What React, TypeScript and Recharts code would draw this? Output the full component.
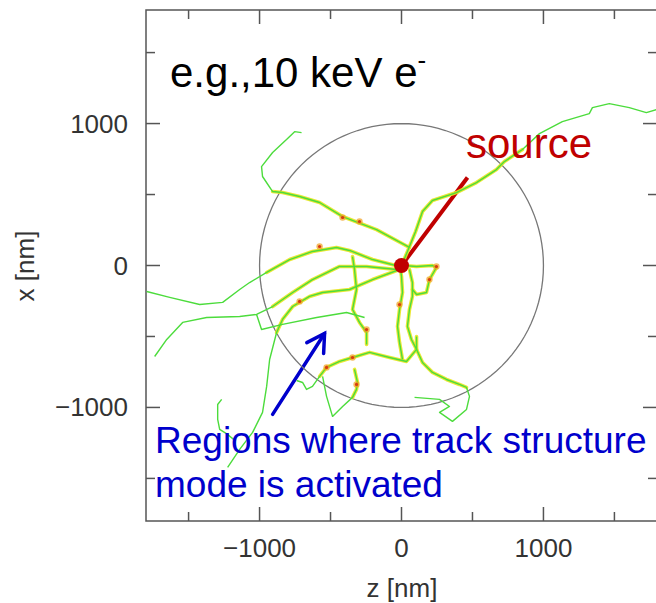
import React from "react"
import { ScatterChart, Scatter, XAxis, YAxis, ReferenceArea, ReferenceLine, ReferenceDot } from "recharts"

type Pt = { z: number; x: number }

// track coordinates in nm (z horizontal, x vertical)
const trackUpRight: Pt[] = [
  { z: 0, x: 0 }, { z: 42, x: 99 }, { z: 99, x: 239 }, { z: 148, x: 380 }, { z: 218, x: 458 },
  { z: 387, x: 514 }, { z: 528, x: 584 }, { z: 669, x: 676 }, { z: 725, x: 732 }, { z: 852, x: 817 },
  { z: 972, x: 929 }, { z: 1133, x: 1014 }, { z: 1323, x: 1070 }, { z: 1345, x: 1112 },
  { z: 1464, x: 1140 }, { z: 1605, x: 1112 }, { z: 1725, x: 1077 }, { z: 1795, x: 1098 },
]
const trackUpLeft: Pt[] = [
  { z: 56, x: 127 }, { z: -176, x: 253 }, { z: -415, x: 345 }, { z: -577, x: 444 }, { z: -718, x: 486 },
  { z: -838, x: 514 }, { z: -908, x: 521 }, { z: -979, x: 627 }, { z: -986, x: 697 }, { z: -908, x: 796 },
  { z: -810, x: 887 }, { z: -753, x: 943 }, { z: -704, x: 936 },
]
const trackLeftTop: Pt[] = [
  { z: -14, x: -7 }, { z: -204, x: 42 }, { z: -366, x: 106 }, { z: -458, x: 127 }, { z: -627, x: 99 },
  { z: -788, x: 42 }, { z: -950, x: -49 }, { z: -1070, x: -120 }, { z: -1140, x: -169 },
  { z: -1260, x: -260 }, { z: -1422, x: -275 }, { z: -1633, x: -225 }, { z: -1795, x: -183 },
]
const trackLeftMid: Pt[] = [
  { z: -35, x: -28 }, { z: -246, x: -7 }, { z: -436, x: -7 }, { z: -627, x: -99 }, { z: -767, x: -190 },
  { z: -908, x: -289 }, { z: -1021, x: -345 }, { z: -1140, x: -359 }, { z: -1373, x: -366 },
  { z: -1542, x: -401 }, { z: -1654, x: -521 }, { z: -1739, x: -641 },
]
const trackLeftBranch: Pt[] = [
  { z: -1021, x: -345 }, { z: -986, x: -451 }, { z: -838, x: -415 }, { z: -598, x: -366 },
  { z: -387, x: -331 }, { z: -260, x: -366 },
]
const trackLeftDown: Pt[] = [
  { z: -14, x: -28 }, { z: -204, x: -99 }, { z: -366, x: -169 }, { z: -556, x: -190 }, { z: -648, x: -218 },
  { z: -767, x: -289 }, { z: -838, x: -380 }, { z: -880, x: -472 }, { z: -929, x: -662 },
  { z: -950, x: -852 }, { z: -979, x: -1035 }, { z: -1049, x: -1176 }, { z: -1140, x: -1295 },
  { z: -1225, x: -1422 },
]
const trackLowLeft: Pt[] = [
  { z: -1267, x: -943 }, { z: -1295, x: -979 }, { z: -1295, x: -1084 }, { z: -1281, x: -1155 },
  { z: -1225, x: -1190 }, { z: -1183, x: -1225 },
]
const trackCentreDrop: Pt[] = [
  { z: -345, x: 63 }, { z: -331, x: -28 }, { z: -317, x: -169 }, { z: -345, x: -310 },
  { z: -296, x: -401 }, { z: -246, x: -472 }, { z: -246, x: -556 },
]
const trackLowYellow: Pt[] = [
  { z: 106, x: -500 }, { z: 106, x: -591 }, { z: 35, x: -676 }, { z: -84, x: -648 }, { z: -225, x: -612 },
  { z: -345, x: -648 }, { z: -436, x: -676 }, { z: -528, x: -718 }, { z: -577, x: -781 },
  { z: -627, x: -852 }, { z: -669, x: -873 }, { z: -697, x: -824 }, { z: -739, x: -810 },
]
const trackLowLoop: Pt[] = [
  { z: -556, x: -781 }, { z: -528, x: -922 }, { z: -486, x: -1063 }, { z: -415, x: -993 },
  { z: -345, x: -929 }, { z: -317, x: -873 }, { z: -310, x: -824 }, { z: -331, x: -732 },
]
const trackDown: Pt[] = [
  { z: -7, x: -28 }, { z: 0, x: -77 }, { z: 7, x: -190 }, { z: -14, x: -310 }, { z: -28, x: -429 },
  { z: -14, x: -542 }, { z: 7, x: -662 },
]
const trackDownRight: Pt[] = [
  { z: 56, x: -28 }, { z: 77, x: -120 }, { z: 77, x: -218 }, { z: 56, x: -310 }, { z: 42, x: -429 },
  { z: 70, x: -521 }, { z: 106, x: -591 }, { z: 148, x: -683 }, { z: 218, x: -753 }, { z: 317, x: -803 },
  { z: 408, x: -838 }, { z: 458, x: -859 }, { z: 479, x: -922 }, { z: 458, x: -1014 },
  { z: 359, x: -1098 }, { z: 268, x: -1035 }, { z: 338, x: -993 }, { z: 268, x: -943 }, { z: 92, x: -929 },
]
const trackRightLoop: Pt[] = [
  { z: 14, x: 0 }, { z: 106, x: -7 }, { z: 218, x: 0 }, { z: 246, x: -14 }, { z: 197, x: -99 },
  { z: 176, x: -190 }, { z: 106, x: -204 }, { z: 77, x: -169 },
]

// dense energy-deposit spots
const hotSpots: Pt[] = [
  { z: 246, x: -7 }, { z: -415, x: 338 }, { z: -296, x: 310 }, { z: -317, x: -838 },
  { z: -528, x: -718 }, { z: -345, x: -648 }, { z: -246, x: -451 }, { z: -14, x: -275 },
  { z: 197, x: -99 }, { z: -718, x: -253 }, { z: -577, x: 134 },
]

// [first, last] index of the part drawn in yellow (track structure region)
const tracks: { pts: Pt[]; yellow?: [number, number] }[] = [
  { pts: trackUpRight, yellow: [0, 9] },
  { pts: trackUpLeft, yellow: [0, 6] },
  { pts: trackLeftTop, yellow: [0, 6] },
  { pts: trackLeftMid, yellow: [0, 5] },
  { pts: trackLeftBranch },
  { pts: trackLeftDown, yellow: [0, 7] },
  { pts: trackLowLeft },
  { pts: trackCentreDrop, yellow: [0, 6] },
  { pts: trackLowYellow, yellow: [0, 8] },
  { pts: trackLowLoop, yellow: [4, 7] },
  { pts: trackDown, yellow: [0, 6] },
  { pts: trackDownRight, yellow: [0, 11] },
  { pts: trackRightLoop, yellow: [0, 7] },
]

const circleRadius = 1000
const circlePts: Pt[] = Array.from({ length: 121 }, (_, i) => {
  const a = (i / 120) * 2 * Math.PI
  return { z: circleRadius * Math.cos(a), x: circleRadius * Math.sin(a) }
})

const ticks = [-1500, -1000, -500, 0, 500, 1000, 1500]
const labelled = [-1000, 0, 1000]
const source: Pt = { z: 0, x: 0 }
const sourceLabelEnd: Pt = { z: 465, x: 620 }
const arrowTail: Pt = { z: -908, x: -1049 }
const arrowHead: Pt = { z: -542, x: -479 }

const W = 670
const H = 603
const PLOT_TOP = 10
const PLOT_LEFT = 146
const PLOT_SIZE = 511
const PLOT_RIGHT = PLOT_LEFT + PLOT_SIZE
const FONT = "'Liberation Sans', Arial, Helvetica, sans-serif"
const FRAME = "#555"
const GREEN = "#4cdc3c"
const YELLOW = "#e8e41e"

const fmt = (v: number) => (v < 0 ? "\u2212" + Math.abs(v) : String(v))

const XTick = (props: any) => {
  const { x, y, payload } = props
  const v = payload.value
  const len = v % 1000 === 0 ? 14 : 9
  return (
    <g>
      <line x1={x} y1={y} x2={x} y2={y - len} stroke={FRAME} strokeWidth={1.5} />
      <line x1={x} y1={PLOT_TOP} x2={x} y2={PLOT_TOP + len} stroke={FRAME} strokeWidth={1.5} />
      {labelled.includes(v) && (
        <text x={x} y={y + 36} textAnchor="middle" fontSize={26} fontFamily={FONT} fill="#333">
          {fmt(v)}
        </text>
      )}
    </g>
  )
}

const YTick = (props: any) => {
  const { x, y, payload } = props
  const v = payload.value
  const len = v % 1000 === 0 ? 14 : 9
  return (
    <g>
      <line x1={x} y1={y} x2={x + len} y2={y} stroke={FRAME} strokeWidth={1.5} />
      <line x1={PLOT_RIGHT} y1={y} x2={PLOT_RIGHT - len} y2={y} stroke={FRAME} strokeWidth={1.5} />
      {labelled.includes(v) && (
        <text x={x - 18} y={y + 9} textAnchor="end" fontSize={26} fontFamily={FONT} fill="#333">
          {fmt(v)}
        </text>
      )}
    </g>
  )
}

const NoDot = () => <g />

const HotDot = (props: any) => (
  <g>
    <circle cx={props.cx} cy={props.cy} r={3.2} fill="#f0a020" opacity={0.7} />
    <circle cx={props.cx} cy={props.cy} r={1.6} fill="#d83a10" />
  </g>
)

const Arrow = (props: any) => {
  const { x1, y1, x2, y2 } = props
  const ang = Math.atan2(y2 - y1, x2 - x1)
  const l = 20
  const w = Math.PI / 6
  const ax = x2 - l * Math.cos(ang - w)
  const ay = y2 - l * Math.sin(ang - w)
  const bx = x2 - l * Math.cos(ang + w)
  const by = y2 - l * Math.sin(ang + w)
  return (
    <g stroke="#0000cc" strokeWidth={3.5} fill="none" strokeLinecap="round">
      <line x1={x1} y1={y1} x2={x2} y2={y2} />
      <polyline points={`${ax},${ay} ${x2},${y2} ${bx},${by}`} />
    </g>
  )
}

export default function App() {
  return (
    <div style={{ position: "relative", width: 656, height: 603, overflow: "hidden", background: "#fff" }}>
      <style>{"body{margin:0;overflow:hidden}"}</style>
      <ScatterChart width={W} height={H} margin={{ top: PLOT_TOP, right: W - PLOT_RIGHT, bottom: 0, left: 0 }}>
        <XAxis
          type="number"
          dataKey="z"
          domain={[-1800, 1800]}
          ticks={ticks}
          interval={0}
          height={H - PLOT_TOP - PLOT_SIZE}
          axisLine={false}
          tickLine={false}
          tickSize={0}
          tickMargin={0}
          tick={<XTick />}
        />
        <YAxis
          type="number"
          dataKey="x"
          domain={[-1800, 1800]}
          ticks={ticks}
          interval={0}
          width={PLOT_LEFT}
          axisLine={false}
          tickLine={false}
          tickSize={0}
          tickMargin={0}
          tick={<YTick />}
        />
        <ReferenceArea x1={-1800} x2={1800} y1={-1800} y2={1800} fill="none" stroke={FRAME} strokeWidth={1.5} />
        <Scatter
          data={circlePts}
          fill="#777"
          line={{ stroke: "#777", strokeWidth: 1.3 }}
          lineType="joint"
          shape={NoDot}
          isAnimationActive={false}
        />
        {tracks.map((t, i) =>
          t.yellow ? (
            <Scatter
              key={`y${i}`}
              data={t.pts.slice(t.yellow[0], t.yellow[1] + 1)}
              fill={YELLOW}
              line={{ stroke: YELLOW, strokeWidth: 3.6, strokeLinejoin: "round", strokeLinecap: "round", strokeOpacity: 0.9 }}
              lineType="joint"
              shape={NoDot}
              isAnimationActive={false}
            />
          ) : null
        )}
        {tracks.map((t, i) => (
          <Scatter
            key={`g${i}`}
            data={t.pts}
            fill={GREEN}
            line={{ stroke: GREEN, strokeWidth: 1.4, strokeLinejoin: "round" }}
            lineType="joint"
            shape={NoDot}
            isAnimationActive={false}
          />
        ))}
        <Scatter data={hotSpots} fill="#d83a10" shape={HotDot} isAnimationActive={false} />
        <ReferenceLine
          segment={[{ x: source.z, y: source.x }, { x: sourceLabelEnd.z, y: sourceLabelEnd.x }]}
          stroke="#c00000"
          strokeWidth={4}
        />
        <ReferenceDot x={source.z} y={source.x} r={7.5} fill="#c00000" stroke="none" />
        <ReferenceLine
          segment={[{ x: arrowTail.z, y: arrowTail.x }, { x: arrowHead.z, y: arrowHead.x }]}
          shape={Arrow}
        />
      </ScatterChart>
      <svg width={656} height={603} style={{ position: "absolute", left: 0, top: 0, pointerEvents: "none" }} fontFamily={FONT}>
        <text x={170} y={87} fontSize={42} fill="#000">
          e.g.,10 keV e<tspan fontSize={26} dy={-18}>-</tspan>
        </text>
        <text x={466} y={158} fontSize={42} fill="#c00000">source</text>
        <text x={155} y={453} fontSize={37} fill="#0000cc">Regions where track structure</text>
        <text x={155} y={497} fontSize={37} fill="#0000cc">mode is activated</text>
        <text transform="translate(34,266) rotate(-90)" textAnchor="middle" fontSize={26} fill="#333">x [nm]</text>
        <text x={402} y={597} textAnchor="middle" fontSize={26} fill="#333">z [nm]</text>
      </svg>
    </div>
  )
}
